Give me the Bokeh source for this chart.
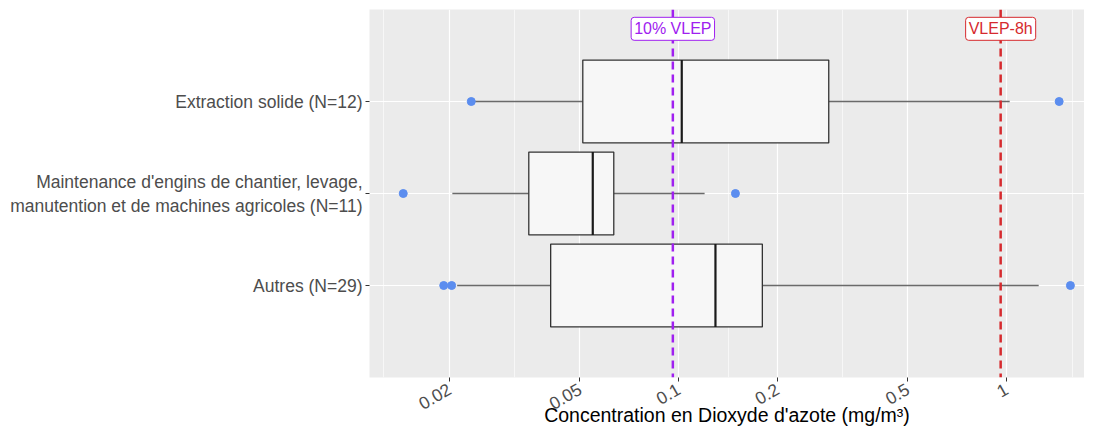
import numpy as np
from bokeh.plotting import figure
from bokeh.models import Range1d, FixedTicker, Span, Label, ColumnDataSource
from bokeh.embed import file_html
from bokeh.resources import INLINE

# ---- data ----
categories = ["Autres (N=29)",
              "Maintenance d'engins de chantier, levage,\nmanutention et de machines agricoles (N=11)",
              "Extraction solide (N=12)"]
whisker_low = [0.0211, 0.0204, 0.0233]
q1 = [0.0407, 0.0349, 0.0510]
median = [0.1295, 0.0547, 0.1022]
q3 = [0.180, 0.0634, 0.287]
whisker_high = [1.254, 0.120, 1.023]
outlier_group = [0, 0, 0, 1, 1, 2, 2]
outlier_value = [0.0192, 0.0203, 1.567, 0.01445, 0.149, 0.0233, 1.448]
x_ticks = [0.02, 0.05, 0.1, 0.2, 0.5, 1]
x_tick_labels = ["0.02", "0.05", "0.1", "0.2", "0.5", "1"]
x_minor_ticks = [0.0126, 0.0316, 0.1416, 0.316, 1.585]
vlep_10 = 0.096
vlep_8h = 0.96
vlep_10_label = "10% VLEP"
vlep_8h_label = "VLEP-8h"
x_title = "Concentration en Dioxyde d'azote (mg/m³)"

FONT = "Liberation Sans"
ypos = [i + 1 for i in range(len(categories))]

p = figure(width=1084, height=430, x_axis_type="log",
           x_range=Range1d(0.0114, 1.73), y_range=Range1d(0, 4),
           output_backend="svg", toolbar_location=None,
           min_border_left=369, min_border_right=0, min_border_top=9,
           min_border_bottom=53)
p.background_fill_color = "#EBEBEB"
p.border_fill_color = "white"
p.outline_line_color = None

# axes
p.xaxis.ticker = FixedTicker(ticks=x_ticks, minor_ticks=x_minor_ticks)
p.xaxis.major_label_overrides = {t: l for t, l in zip(x_ticks, x_tick_labels)}
p.yaxis.ticker = FixedTicker(ticks=ypos, minor_ticks=[])
p.yaxis.major_label_overrides = {y: c for y, c in zip(ypos, categories)}
for ax in (p.xaxis, p.yaxis):
    ax.axis_line_color = None
    ax.major_tick_line_color = "#333333"
    ax.major_tick_out = 4
    ax.major_tick_in = 0
    ax.minor_tick_line_color = None
    ax.major_label_text_font = FONT
    ax.major_label_text_color = "#4D4D4D"
    ax.major_label_standoff = 3
p.yaxis.major_label_text_font_size = "17.5px"
p.xaxis.major_label_text_font_size = "17.5px"
p.xaxis.major_label_standoff = 6
p.xaxis.major_label_orientation = np.pi / 6
p.xaxis.axis_label = x_title
p.xaxis.axis_label_text_font = FONT
p.xaxis.axis_label_text_font_size = "19.5px"
p.xaxis.axis_label_text_font_style = "normal"
p.xaxis.axis_label_text_color = "#000000"
try:
    p.xaxis.axis_label_standoff = -15
except Exception:
    p.xaxis.axis_label_standoff = 0

# grid
p.xgrid.grid_line_color = "white"
p.xgrid.grid_line_width = 1.2
p.xgrid.minor_grid_line_color = "white"
p.xgrid.minor_grid_line_width = 0.6
p.ygrid.grid_line_color = "white"
p.ygrid.grid_line_width = 1.2

src = ColumnDataSource(dict(y=ypos, lo=whisker_low, q1=q1, med=median, q3=q3, hi=whisker_high,
                            ylo=[y - 0.45 for y in ypos], yhi=[y + 0.45 for y in ypos]))
p.segment(x0="lo", y0="y", x1="q1", y1="y", source=src, line_color="#6A6A6A", line_width=1.6)
p.segment(x0="q3", y0="y", x1="hi", y1="y", source=src, line_color="#6A6A6A", line_width=1.6)
p.hbar(y="y", left="q1", right="q3", height=0.9, source=src,
       fill_color="#F7F7F7", line_color="#333333", line_width=1.3)
p.segment(x0="med", y0="ylo", x1="med", y1="yhi", source=src, line_color="#1A1A1A", line_width=2.2)

p.scatter(x=outlier_value, y=[ypos[g] for g in outlier_group], size=8,
          fill_color="#5B8DEF", line_color="#5B8DEF")

purple = "#A020F0"
red = "#D62A2E"
p.add_layout(Span(location=vlep_10, dimension="height", line_color=purple,
                  line_width=2.5, line_dash="8 5"))
p.add_layout(Span(location=vlep_8h, dimension="height", line_color=red,
                  line_width=2.5, line_dash="8 5"))
for xv, txt, col in ((vlep_10, vlep_10_label, purple), (vlep_8h, vlep_8h_label, red)):
    p.add_layout(Label(x=xv, y=3.79, text=txt, text_align="center", text_baseline="middle",
                       text_font=FONT, text_font_size="16px", text_color=col,
                       background_fill_color="white", border_line_color=col,
                       border_line_width=1, border_radius=3, padding=3))

open("out.html", "w").write(file_html(p, INLINE))
